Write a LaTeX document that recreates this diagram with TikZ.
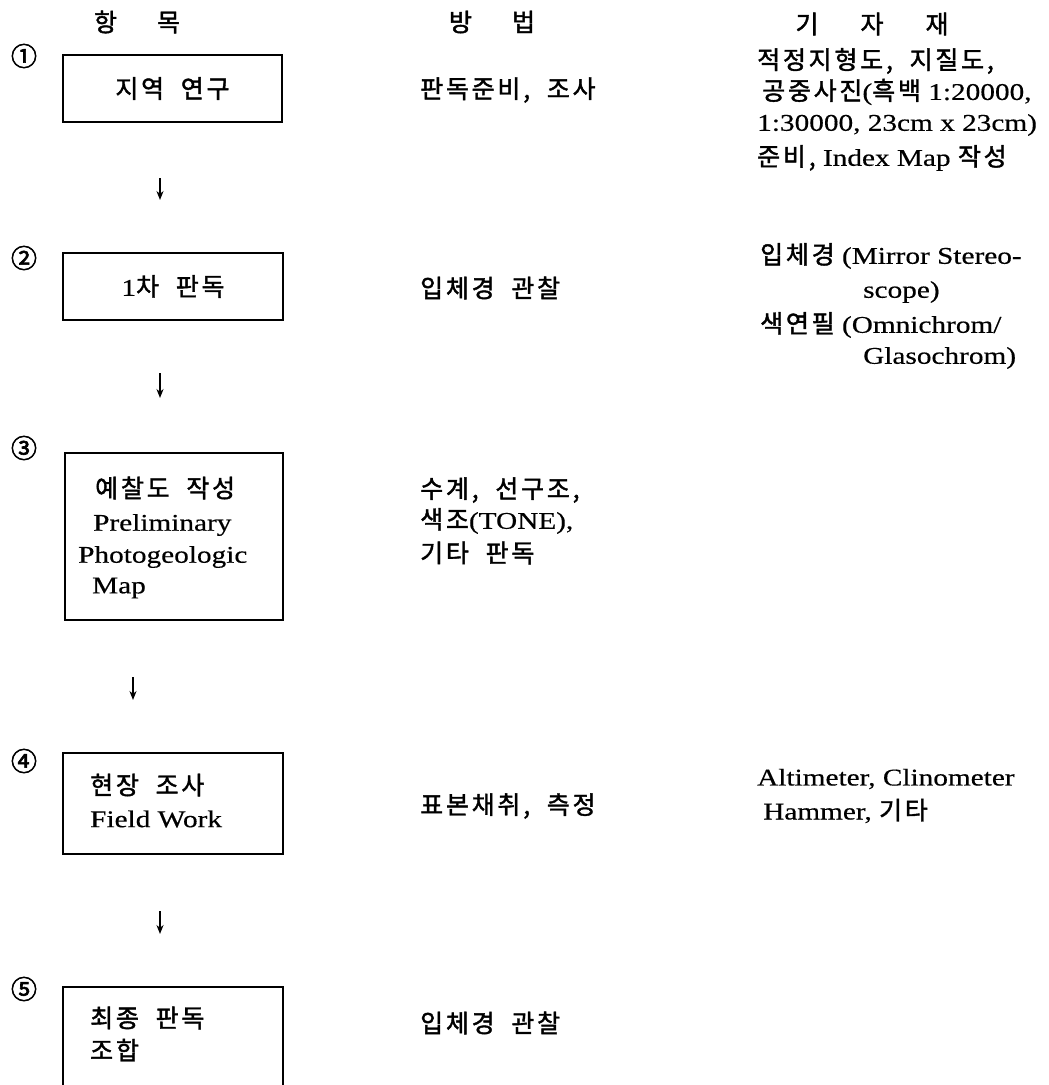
\documentclass[tikz,border=0pt]{standalone}
\usepackage{fontspec}
\setmainfont{Liberation Serif}[FakeStretch=1.22,FakeBold=0.4]
\newfontfamily\krfont{Noto Sans CJK KR}[FakeBold=1.6,LetterSpace=11,WordSpace=2]
\newfontfamily\numfont{Noto Sans CJK KR}[FakeBold=2.5]
\newcommand\K[1]{{\krfont #1}}
\usetikzlibrary{arrows.meta}
\begin{document}
\begin{tikzpicture}[x=1pt,y=-1pt,
  every node/.style={inner sep=0pt, font=\fontsize{24}{30}\selectfont},
  stepbox/.style={draw, line width=2pt},
  lbl/.style={anchor=west},
  num/.style={font=\fontsize{26}{30}\selectfont\numfont},
  kr/.style={font=\fontsize{25}{30}\selectfont},
  flow/.style={-{Stealth[length=9pt,width=7pt]}, line width=1.5pt}]
\useasboundingbox (0,0) rectangle (1049,1085);
\fill[white] (0,0) rectangle (1049,1085);
\clip (0,0) rectangle (1049,1085);

% headers
\node[kr] (h1) at (137,22) {\K{항\hspace{40pt}목}};
\node[kr] (h2) at (492,22) {\K{방\hspace{40pt}법}};
\node[kr] (h3) at (872,24) {\K{기\hspace{42pt}자\hspace{42pt}재}};

% circled numbers
\node[num] (n1) at (24,56) {①};
\node[num] (n2) at (24,258) {②};
\node[num] (n3) at (24,448) {③};
\node[num] (n4) at (24,761) {④};
\node[num] (n5) at (24,989) {⑤};

% boxes
\node[stepbox, kr, minimum width=219pt, minimum height=67pt] (b1) at (172.5,88.5) {\K{지역 연구}};
\node[stepbox, minimum width=220pt, minimum height=67pt] (b2) at (173,286.5) {1{\fontsize{25}{30}\selectfont\K{차 판독}}};
\node[stepbox, minimum width=218pt, minimum height=167pt] (b3) at (174,536.5) {};
\node[lbl, kr] (t3a) at (95,488) {\K{예찰도 작성}};
\node[lbl] (t3b) at (93,525) {Preliminary};
\node[lbl] (t3c) at (78,557) {Photogeologic};
\node[lbl] (t3d) at (92,588) {Map};
\node[stepbox, minimum width=220pt, minimum height=101pt] (b4) at (173,803.5) {};
\node[lbl, kr] (t4a) at (90,785) {\K{현장 조사}};
\node[lbl] (t4b) at (90,819) {Field Work};
\node[stepbox, minimum width=220pt, minimum height=130pt] (b5) at (173,1052) {};
\node[lbl, kr] (t5a) at (90,1018) {\K{최종 판독}};
\node[lbl, kr] (t5b) at (90,1050) {\K{조합}};

% arrows
\coordinate (a1s) at (160,178); \coordinate (a1e) at (160,200);
\coordinate (a2s) at (160,373); \coordinate (a2e) at (160,398);
\coordinate (a3s) at (133,677); \coordinate (a3e) at (133,700);
\coordinate (a4s) at (160,911); \coordinate (a4e) at (160,934);
\draw[flow] (a1s) -- (a1e);
\draw[flow] (a2s) -- (a2e);
\draw[flow] (a3s) -- (a3e);
\draw[flow] (a4s) -- (a4e);

% methods
\node[lbl, kr] (m1) at (420,90) {\K{판독준비, 조사}};
\node[lbl, kr] (m2) at (420,288) {\K{입체경 관찰}};
\node[lbl, kr] (m3a) at (420,490) {\K{수계, 선구조,}};
\node[lbl] (m3b) at (420,521) {{\fontsize{25}{30}\selectfont\K{색조}}(TONE),};
\node[lbl, kr] (m3c) at (420,553) {\K{기타 판독}};
\node[lbl, kr] (m4) at (420,806) {\K{표본채취, 측정}};
\node[lbl, kr] (m5) at (420,1023) {\K{입체경 관찰}};

% materials
\node[lbl, kr] (r1a) at (757,61) {\K{적정지형도, 지질도,}};
\node[lbl] (r1b) at (762,92) {{\fontsize{25}{30}\selectfont\K{공중사진}}({\fontsize{25}{30}\selectfont\K{흑백}} 1:20000,};
\node[lbl] (r1c) at (757,125) {1:30000, 23cm x 23cm)};
\node[lbl] (r1d) at (757,158) {{\fontsize{25}{30}\selectfont\K{준비,}} Index Map {\fontsize{25}{30}\selectfont\K{작성}}};
\node[lbl] (r2a) at (760,256) {{\fontsize{25}{30}\selectfont\K{입체경}} (Mirror Stereo-};
\node[lbl] (r2b) at (863,292) {scope)};
\node[lbl] (r2c) at (760,325) {{\fontsize{25}{30}\selectfont\K{색연필}} (Omnichrom/};
\node[lbl] (r2d) at (863,358) {Glasochrom)};
\node[lbl] (r4a) at (757,779) {Altimeter, Clinometer};
\node[lbl] (r4b) at (763,811) {Hammer, {\fontsize{25}{30}\selectfont\K{기타}}};
\end{tikzpicture}
\end{document}
